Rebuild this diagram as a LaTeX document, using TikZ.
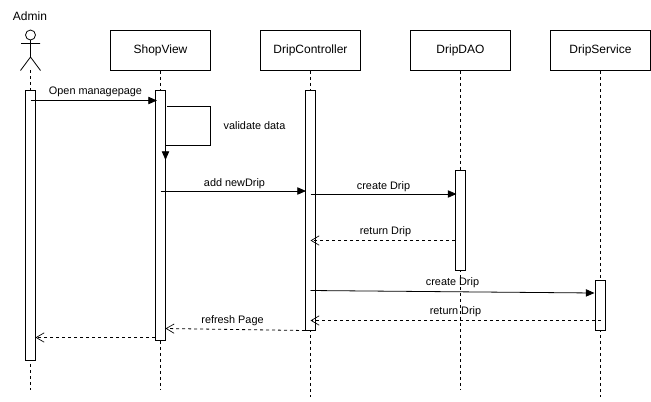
\documentclass[tikz,border=0pt]{standalone}
\usepackage{fontspec}
\setmainfont{Liberation Sans}
\usetikzlibrary{arrows.meta}
\tikzset{
  headbox/.style={draw,fill=white,line width=0.6pt,minimum width=75pt,minimum height=30pt,inner sep=0pt,font=\fontsize{9}{11}\selectfont,anchor=north},
  actbar/.style={draw,fill=white,line width=0.6pt,minimum width=7.5pt,inner sep=0pt,anchor=north},
  life/.style={line width=0.6pt,dash pattern=on 2.25pt off 2.25pt},
  msg/.style={line width=0.6pt,-{Triangle[length=6.5pt,width=5.5pt]}},
  ret/.style={line width=0.6pt,dash pattern=on 2.25pt off 2.25pt,-{Straight Barb[length=6pt,width=7pt,line width=0.5pt]}},
  lbl/.style={font=\fontsize{8.15}{10}\selectfont,inner sep=0pt}
}
\begin{document}
\begin{tikzpicture}[x=0.75pt,y=-0.75pt]
\useasboundingbox (0,0) rectangle (651,401);
\fill[white] (0,0) rectangle (651,401);
% head nodes
\node[lbl,font=\fontsize{9}{11}\selectfont] (adminlabel) at (30,16) {Admin};
\node[headbox] (shop) at (160.5,30) {ShopView};
\node[headbox] (ctrl) at (310.5,30) {DripController};
\node[headbox] (dao) at (460.5,30) {DripDAO};
\node[headbox] (svc) at (600.5,30) {DripService};
% lifeline ends
\coordinate (adminfoot) at (30.5,70);
\coordinate (adminend) at (30.5,390);
\coordinate (shopend) at (160.5,390);
\coordinate (ctrlend) at (310.5,397);
\coordinate (daoend) at (460.5,390);
\coordinate (svcend) at (600.5,397);
\draw[life] (adminfoot) -- (adminend);
\draw[life] (shop.south) -- (shopend);
\draw[life] (ctrl.south) -- (ctrlend);
\draw[life] (dao.south) -- (daoend);
\draw[life] (svc.south) -- (svcend);
% stick figure
\draw[line width=0.6pt,fill=white] (30.5,35) circle (5);
\draw[line width=0.6pt] (30.5,40) -- (30.5,57) (21,43.5) -- (40,43.5) (20.5,70.5) -- (30.5,57) -- (40.5,70.5);
% activation bars
\node[actbar,minimum height=202.5pt] (aA) at (30.5,90) {};
\node[actbar,minimum height=187.5pt] (aS) at (160.5,90) {};
\node[actbar,minimum height=180pt] (aC) at (310.5,90) {};
\node[actbar,minimum height=75pt] (aD) at (460.5,170) {};
\node[actbar,minimum height=37.5pt] (aV) at (600.5,280) {};
% messages
\coordinate (m1a) at (30.5,100.5); \coordinate (m1b) at (157,100.5);
\draw[msg] (m1a) -- (m1b);
\node[lbl] (t1) at (95.5,92) {Open managepage};
\coordinate (s1) at (167,106.5); \coordinate (s2) at (210.5,106.5); \coordinate (s3) at (210.5,145.5); \coordinate (s4) at (165.5,145.5); \coordinate (s5) at (165.5,160);
\draw[msg] (s1) -- (s2) -- (s3) -- (s4) -- (s5);
\node[lbl] (t2) at (254.5,126) {validate data};
\coordinate (m2a) at (160.5,191); \coordinate (m2b) at (306,191);
\draw[msg] (m2a) -- (m2b);
\node[lbl] (t3) at (234.5,183.5) {add newDrip};
\coordinate (m3a) at (310.5,194); \coordinate (m3b) at (456.5,194);
\draw[msg] (m3a) -- (m3b);
\node[lbl] (t4) at (383.5,186.5) {create Drip};
\coordinate (r1a) at (455,240.5); \coordinate (r1b) at (310.5,240.5);
\draw[ret] (r1a) -- (r1b);
\node[lbl] (t5) at (385.5,232) {return Drip};
\coordinate (m4a) at (310.5,290.5); \coordinate (m4b) at (594.5,293);
\draw[msg] (m4a) -- (m4b);
\node[lbl] (t6) at (452.5,283) {create Drip};
\coordinate (r2a) at (600.5,320.5); \coordinate (r2b) at (310.5,320.5);
\draw[ret] (r2a) -- (r2b);
\node[lbl] (t7) at (455.5,312) {return Drip};
\coordinate (r3a) at (305,330.5); \coordinate (r3b) at (165.5,328.5);
\draw[ret] (r3a) -- (r3b);
\node[lbl] (t8) at (232.5,320.5) {refresh Page};
\coordinate (r4a) at (155,337.5); \coordinate (r4b) at (35.5,337.5);
\draw[ret] (r4a) -- (r4b);
\end{tikzpicture}
\end{document}
